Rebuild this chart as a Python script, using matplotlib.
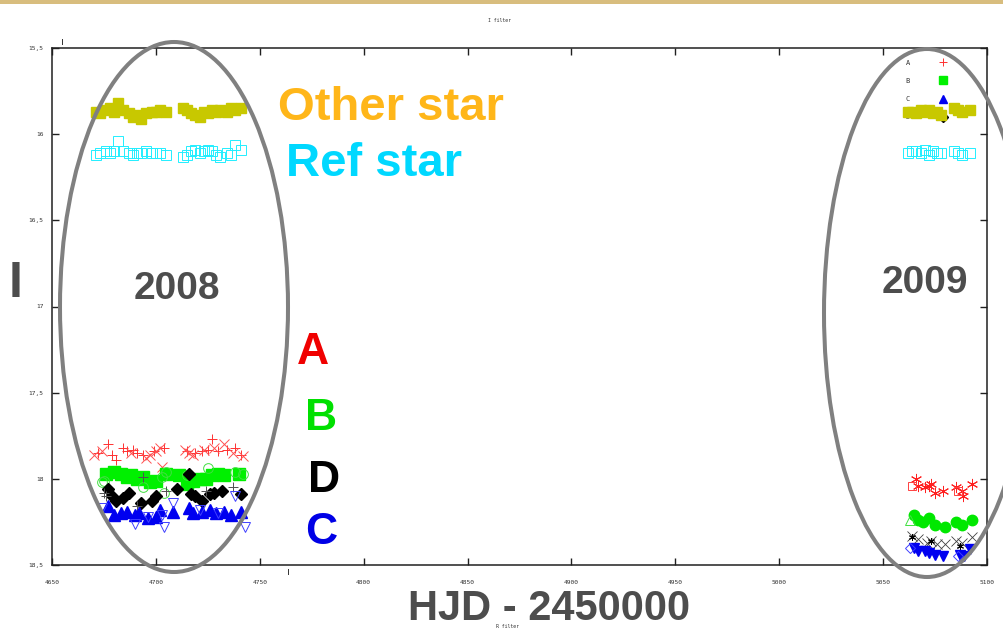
import matplotlib
matplotlib.use("Agg")
import matplotlib.pyplot as plt
from matplotlib.patches import Ellipse, Rectangle
from matplotlib.lines import Line2D

# ---------------- data: I-band magnitudes vs HJD - 2450000 ----------------
# comparison stars, 2008 season
t_cmp08 = [4671, 4673, 4676, 4678, 4680, 4682, 4684, 4687, 4689, 4691, 4693, 4695,
           4698, 4700, 4702, 4705, 4713, 4715, 4717, 4719, 4721, 4723, 4725, 4727,
           4729, 4731, 4734, 4736, 4738, 4741]
other08 = [15.87, 15.88, 15.86, 15.85, 15.87, 15.82, 15.86, 15.88, 15.90, 15.89, 15.91, 15.88,
           15.87, 15.87, 15.86, 15.87, 15.85, 15.86, 15.88, 15.89, 15.90, 15.87, 15.88, 15.86,
           15.87, 15.86, 15.87, 15.85, 15.86, 15.85]
ref08 = [16.12, 16.11, 16.10, 16.11, 16.10, 16.04, 16.10, 16.11, 16.12, 16.11, 16.11, 16.10,
         16.11, 16.11, 16.11, 16.12, 16.13, 16.12, 16.10, 16.09, 16.11, 16.10, 16.09, 16.10,
         16.12, 16.13, 16.11, 16.12, 16.06, 16.09]

# comparison stars, 2009 season
t_cmp09 = [5062, 5064, 5066, 5068, 5070, 5072, 5074, 5076, 5078, 5084, 5086, 5088, 5092]
other09 = [15.87, 15.87, 15.88, 15.86, 15.87, 15.86, 15.88, 15.87, 15.89, 15.85, 15.86, 15.87, 15.86]
ref09 = [16.11, 16.10, 16.10, 16.11, 16.09, 16.12, 16.10, 16.11, 16.11, 16.10, 16.11, 16.12, 16.11]

# image A
tA_plus08 = [4672, 4677, 4679, 4681, 4684, 4686, 4689, 4691, 4694, 4699, 4704,
             4715, 4719, 4722, 4725, 4727, 4730, 4734, 4738, 4741]
A_plus08 = [17.85, 17.80, 17.86, 17.89, 17.82, 17.84, 17.83, 17.85, 17.86, 17.84, 17.82,
            17.84, 17.85, 17.84, 17.83, 17.77, 17.84, 17.83, 17.82, 17.86]
tA_cross08 = [4670, 4674, 4688, 4695, 4697, 4700, 4702, 4703, 4714, 4716, 4718, 4723,
              4728, 4733, 4737, 4742]
A_cross08 = [17.86, 17.84, 17.85, 17.88, 17.86, 17.84, 17.82, 17.93, 17.83, 17.85, 17.86,
             17.83, 17.82, 17.80, 17.85, 17.87]
tA_star09 = [5066, 5067, 5070, 5072, 5073, 5075, 5079, 5085, 5088, 5088.5, 5093]
A_star09 = [18.00, 18.04, 18.05, 18.04, 18.03, 18.08, 18.07, 18.05, 18.07, 18.10, 18.03]
tA_sq09 = [5064, 5086]
A_sq09 = [18.04, 18.07]

# image B
tB_sq08 = [4676, 4680, 4683, 4686, 4688, 4691, 4694, 4697, 4700, 4705, 4711,
           4715, 4718, 4721, 4724, 4727, 4730, 4733, 4740]
B_sq08 = [17.97, 17.96, 17.97, 17.99, 17.98, 18.00, 17.99, 18.02, 18.01, 17.97, 17.98,
          18.03, 18.01, 18.00, 18.00, 17.98, 17.97, 17.98, 17.97]
tB_circ08 = [4674, 4675, 4694, 4703, 4705, 4704, 4715, 4725, 4738, 4742]
B_circ08 = [18.02, 18.01, 18.05, 17.99, 17.96, 18.08, 17.98, 17.94, 17.96, 17.97]
tB_circ09 = [5065, 5067, 5069, 5072, 5075, 5080, 5085, 5088, 5093]
B_circ09 = [18.21, 18.24, 18.25, 18.23, 18.27, 18.28, 18.25, 18.27, 18.24]
tB_tri09 = [5063]
B_tri09 = [18.24]

# image D
tD_dia08 = [4677, 4679, 4681, 4684, 4687, 4693, 4698, 4700, 4710, 4716, 4717, 4719,
            4722, 4726, 4728, 4732, 4741]
D_dia08 = [18.06, 18.10, 18.13, 18.11, 18.08, 18.14, 18.13, 18.10, 18.06, 17.97, 18.09,
           18.10, 18.13, 18.09, 18.08, 18.07, 18.09]
tD_plus08 = [4675, 4694, 4705, 4724, 4737, 4691, 4676]
D_plus08 = [18.08, 17.99, 18.07, 18.07, 18.05, 18.16, 18.10]
tD_cross09 = [5064, 5067, 5071, 5073, 5076, 5080, 5085, 5088, 5093]
D_cross09 = [18.33, 18.35, 18.37, 18.36, 18.38, 18.38, 18.36, 18.37, 18.34]
tD_star09 = [5064, 5073, 5087]
D_star09 = [18.34, 18.36, 18.39]

# image C
tC_tri08 = [4677, 4680, 4683, 4686, 4690, 4692, 4696, 4700, 4702, 4708, 4716, 4718,
            4722, 4726, 4729, 4733, 4736, 4741]
C_tri08 = [18.16, 18.21, 18.20, 18.19, 18.21, 18.20, 18.23, 18.22, 18.18, 18.19, 18.17,
           18.20, 18.19, 18.18, 18.20, 18.19, 18.21, 18.19]
tC_dtri08 = [4674, 4690, 4696, 4703, 4704, 4708, 4721, 4730, 4738, 4743]
C_dtri08 = [18.17, 18.26, 18.22, 18.21, 18.28, 18.14, 18.18, 18.20, 18.10, 18.28]
tC_dtri09 = [5065, 5067, 5070, 5072, 5075, 5079, 5087, 5089, 5092]
C_dtri09 = [18.40, 18.42, 18.42, 18.43, 18.44, 18.45, 18.44, 18.45, 18.41]
tC_dia09 = [5063, 5086]
C_dia09 = [18.40, 18.45]

x_ticks = [4650, 4700, 4750, 4800, 4850, 4900, 4950, 5000, 5050, 5100]
y_ticks = [15.5, 16, 16.5, 17, 17.5, 18, 18.5]
y_ticklabels = ["15,5", "16", "16,5", "17", "17,5", "18", "18,5"]
legend_labels = ["A", "B", "C", "D"]

# ---------------- figure ----------------
W, H = 1004, 630
fig = plt.figure(figsize=(W / 100, H / 100), dpi=100)


def fx(px):
    return px / W


def fy(py):
    return 1 - py / H


ax = fig.add_axes([fx(52), fy(565), fx(987) - fx(52), fy(48) - fy(565)])

ax.plot(t_cmp08, other08, ls="none", marker="s", ms=7, color="#c8c800", mec="#c8c800", zorder=3)
ax.plot(t_cmp09, other09, ls="none", marker="s", ms=7, color="#c8c800", mec="#c8c800", zorder=3)
ax.plot(t_cmp08, ref08, ls="none", marker="s", ms=6.5, mfc="none", mec="#22eeff", mew=0.7)
ax.plot(t_cmp09, ref09, ls="none", marker="s", ms=6.5, mfc="none", mec="#22eeff", mew=0.7)

hA, = ax.plot(tA_plus08, A_plus08, ls="none", marker="+", ms=7.5, color="#ff3030", mew=0.7)
ax.plot(tA_cross08, A_cross08, ls="none", marker="x", ms=7, color="#ff5050", mew=0.7)
ax.plot(tA_star09, A_star09, ls="none", marker=(6, 2, 0), ms=8, color="#ff2020", mew=0.7)
ax.plot(tA_sq09, A_sq09, ls="none", marker="s", ms=6, mfc="none", mec="#ff4040", mew=0.7)

hB, = ax.plot(tB_sq08, B_sq08, ls="none", marker="s", ms=8, color="#00f000", mec="#00f000")
ax.plot(tB_circ08, B_circ08, ls="none", marker="o", ms=7, mfc="none", mec="#40e040", mew=0.7)
ax.plot(tB_circ09, B_circ09, ls="none", marker="o", ms=7.5, color="#00e800", mec="#00e800")
ax.plot(tB_tri09, B_tri09, ls="none", marker="^", ms=7, mfc="none", mec="#40e040", mew=0.7)

hD, = ax.plot(tD_dia08, D_dia08, ls="none", marker="D", ms=6.5, color="black")
ax.plot(tD_plus08, D_plus08, ls="none", marker="+", ms=7, color="#505050", mew=0.7)
ax.plot(tD_cross09, D_cross09, ls="none", marker="x", ms=7, color="#404040", mew=0.6)
ax.plot(tD_star09, D_star09, ls="none", marker=(6, 2, 0), ms=5, color="black", mew=0.7)

hC, = ax.plot(tC_tri08, C_tri08, ls="none", marker="^", ms=8, color="#0000f0", mec="#0000f0")
ax.plot(tC_dtri08, C_dtri08, ls="none", marker="v", ms=7.5, mfc="none", mec="#4040ff", mew=0.7)
ax.plot(tC_dtri09, C_dtri09, ls="none", marker="v", ms=7.5, color="#0000f0", mec="#0000f0")
ax.plot(tC_dia09, C_dia09, ls="none", marker="D", ms=5, mfc="none", mec="#4040ff", mew=0.7)

ax.set_xlim(4650, 5100)
ax.set_ylim(18.5, 15.5)
ax.set_xticks(x_ticks)
ax.set_xticklabels([str(v) for v in x_ticks])
ax.set_yticks(y_ticks)
ax.set_yticklabels(y_ticklabels)
ax.tick_params(direction="in", top=True, right=True, length=5, width=1.0, color="#202020",
               labelsize=4.5, labelcolor="#333333")
ax.tick_params(axis="x", pad=11)
ax.tick_params(axis="y", pad=6)
for lab in ax.get_xticklabels() + ax.get_yticklabels():
    lab.set_family("DejaVu Sans Mono")
for sp in ax.spines.values():
    sp.set_color("#202020")
    sp.set_linewidth(1.1)

leg = ax.legend([hA, hB, hC, hD], legend_labels, loc="upper right",
                bbox_to_anchor=((960 - 52) / 935, 1.0), bbox_transform=ax.transAxes,
                markerfirst=False, frameon=False, fontsize=5, labelspacing=1.74,
                handlelength=1.5, handletextpad=4.0, borderaxespad=1.3, markerscale=0.8)
leg.set_zorder(2.5)
for txt in leg.get_texts():
    txt.set_family("DejaVu Sans Mono")
    txt.set_color("#333333")

# season ellipses
fig.add_artist(Ellipse((fx(174), fy(307)), fx(228), 530 / H, transform=fig.transFigure,
                       fill=False, ec="#808080", lw=2.9))
fig.add_artist(Ellipse((fx(927), fy(313)), fx(206), 528 / H, transform=fig.transFigure,
                       fill=False, ec="#808080", lw=2.9))

# header strip
fig.add_artist(Rectangle((0, fy(4)), 1, 4 / H, transform=fig.transFigure,
                         color="#d8bd7e", lw=0))

big = dict(family="Liberation Sans", weight="bold", transform=fig.transFigure)
fig.text(fx(278), fy(108), "Other star", color="#ffb619", fontsize=34, va="center", ha="left", **big)
fig.text(fx(286), fy(164), "Ref star", color="#00d8ff", fontsize=34, va="center", ha="left", **big)
fig.text(fx(16), fy(284), "I", color="#4d4d4d", fontsize=36, va="center", ha="center", **big)
fig.text(fx(177), fy(289), "2008", color="#4d4d4d", fontsize=28, va="center", ha="center", **big)
fig.text(fx(925), fy(283), "2009", color="#4d4d4d", fontsize=28, va="center", ha="center", **big)
fig.text(fx(313), fy(352), "A", color="#f00000", fontsize=32, va="center", ha="center", **big)
fig.text(fx(321), fy(418), "B", color="#00e000", fontsize=32, va="center", ha="center", **big)
fig.text(fx(324), fy(480), "D", color="#000000", fontsize=32, va="center", ha="center", **big)
fig.text(fx(321), fy(532), "C", color="#0000e6", fontsize=32, va="center", ha="center", **big)
fig.text(fx(549), fy(620), "HJD - 2450000", color="#4d4d4d", fontsize=30, va="baseline", ha="center", **big)

small = dict(family="DejaVu Sans Mono", fontsize=3.5, color="#333333", transform=fig.transFigure)
fig.text(fx(500), fy(20), "I filter", ha="center", va="center", **small)
fig.text(fx(508), fy(627), "R filter", ha="center", va="center", **small)

# stray tick marks from the overlaid R-filter frame
fig.add_artist(Line2D([fx(62), fx(62)], [fy(39), fy(44)], transform=fig.transFigure,
                      color="#333333", lw=0.7))
fig.add_artist(Line2D([fx(288), fx(288)], [fy(569), fy(574)], transform=fig.transFigure,
                      color="#333333", lw=0.7))

fig.savefig("out.png", dpi=100)
